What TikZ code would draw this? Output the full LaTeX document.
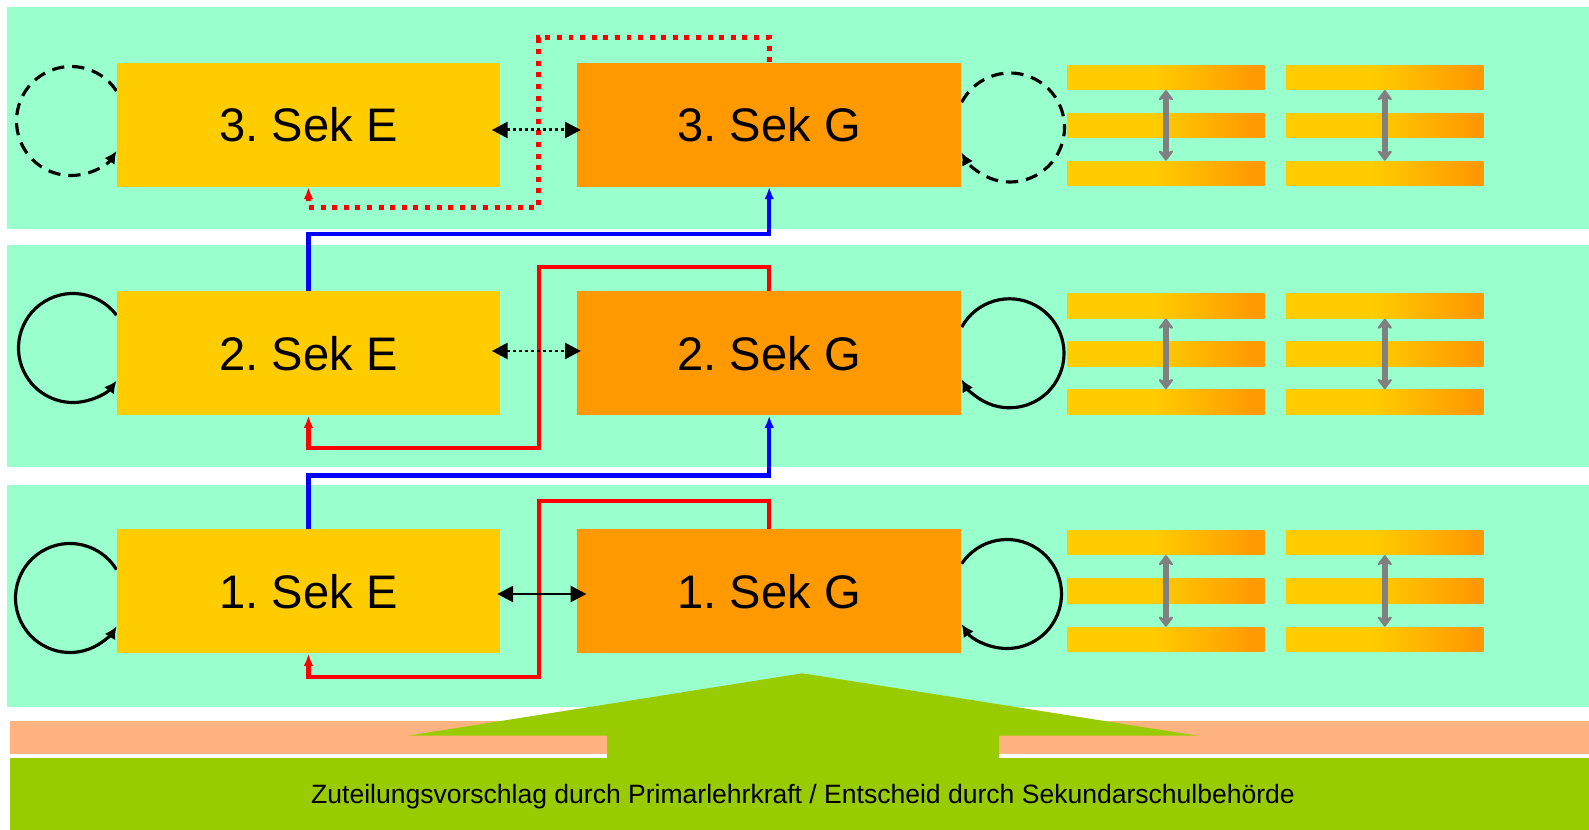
\documentclass[tikz,border=0pt]{standalone}
\usepackage{fontspec}
\setmainfont{Liberation Sans}
\frenchspacing
\usetikzlibrary{arrows.meta}
\definecolor{bandc}{HTML}{99FFCC}
\definecolor{sekE}{HTML}{FFCC00}
\definecolor{sekG}{HTML}{FF9900}
\definecolor{salmon}{HTML}{FFB380}
\definecolor{grn}{HTML}{99CC00}
\definecolor{gry}{HTML}{808080}
\definecolor{myred}{HTML}{FF0000}
\definecolor{myblue}{HTML}{0000FF}
\pgfdeclarehorizontalshading{stripeshade}{100bp}{color(0bp)=(sekE); color(25bp)=(sekE); color(47bp)=(sekE); color(73bp)=(sekG); color(100bp)=(sekG)}
\tikzset{
  band/.style={fill=bandc},
  ebox/.style={fill=sekE, minimum width=7.68cm, minimum height=2.48cm, inner sep=0pt, font=\fontsize{26.8}{30}\selectfont},
  gbox/.style={ebox, fill=sekG},
  stripebox/.style={shading=stripeshade, minimum width=3.954cm, minimum height=0.494cm, inner sep=0pt},
  loopline/.style={line width=1.8pt, -{Latex[length=7pt,width=7pt]}},
  dashloop/.style={loopline, dash pattern=on 7pt off 4.5pt},
  dbl/.style={line width=1.7pt, {Triangle[length=9pt,width=9pt]}-{Triangle[length=9pt,width=9pt]}},
  dotdbl/.style={dbl, dash pattern=on 1.7pt off 1.7pt},
  blueline/.style={myblue, line width=2.3pt, -{Latex[length=7pt,width=5.5pt]}},
  redline/.style={myred, line width=2.3pt, -{Latex[length=7pt,width=5.5pt]}},
  reddot/.style={redline, line width=2.8pt, dash pattern=on 2.8pt off 3.8pt},
  grayarr/.style={gry, line width=3.6pt, {Stealth[round,length=7pt,width=10.5pt,inset=2.5pt]}-{Stealth[round,length=7pt,width=10.5pt,inset=2.5pt]}}
}
\begin{document}
\begin{tikzpicture}[x=0.02cm,y=0.02cm]
\useasboundingbox (0,0) rectangle (1589,-830);
\fill[white] (0,0) rectangle (1589,-830);
% bands
\fill[band] (7,-7) rectangle (1589,-229);
\fill[band] (7,-245) rectangle (1589,-467.5);
\fill[band] (7,-485) rectangle (1589,-707.5);
\fill[salmon] (10,-721.5) rectangle (1589,-754);
\fill[grn] (10,-757.7) rectangle (1589,-830);
\fill[grn] (607,-760) -- (607,-735.7) -- (408,-735.7) -- (802.4,-673.3) -- (1197.6,-735.7) -- (999,-735.7) -- (999,-760) -- cycle;
\node[font=\fontsize{15.1}{18}\selectfont] (txt) at (803,-797) {Zuteilungsvorschlag durch Primarlehrkraft / Entscheid durch Sekundarschulbehörde};
% loops
\draw[dashloop] (71,-121) ++(33.4:54.5) arc[start angle=33.4, end angle=326.6, radius=54.5];
\draw[loopline] (73,-348) ++(37:54.5) arc[start angle=37, end angle=323, radius=54.5];
\draw[loopline] (70,-598) ++(31.4:54.5) arc[start angle=31.4, end angle=328.6, radius=54.5];
\draw[dashloop] (1010,-127.5) ++(152.4:54.5) arc[start angle=152.4, end angle=-152.4, radius=54.5];
\draw[loopline] (1009.5,-353.3) ++(151.3:54.5) arc[start angle=151.3, end angle=-151.3, radius=54.5];
\draw[loopline] (1007,-594) ++(146.2:54.5) arc[start angle=146.2, end angle=-146.2, radius=54.5];
% boxes
\node[ebox] (e3) at (308.5,-124.6) {3. Sek E};
\node[gbox] (g3) at (769.2,-124.6) {3. Sek G};
\node[ebox] (e2) at (308.5,-353.3) {2. Sek E};
\node[gbox] (g2) at (769.2,-353.3) {2. Sek G};
\node[ebox] (e1) at (308.5,-591.3) {1. Sek E};
\node[gbox] (g1) at (769.2,-591.3) {1. Sek G};
% stripes
\foreach \r/\ya/\yb/\yc in {3/77.4/125.4/173.4, 2/305.9/353.9/401.9, 1/542.4/590.9/639.4}{
  \node[stripebox] (s\r a1) at (1165.9,-\ya) {};
  \node[stripebox] (s\r a2) at (1165.9,-\yb) {};
  \node[stripebox] (s\r a3) at (1165.9,-\yc) {};
  \node[stripebox] (s\r b1) at (1384.8,-\ya) {};
  \node[stripebox] (s\r b2) at (1384.8,-\yb) {};
  \node[stripebox] (s\r b3) at (1384.8,-\yc) {};
  \draw[grayarr] (s\r a1.south) -- (s\r a3.north);
  \draw[grayarr] (s\r b1.south) -- (s\r b3.north);
}
% connectors
\coordinate (b3) at (769.2,-234.3);
\coordinate (b2) at (769.2,-475.5);
\draw[blueline] (e2.north) |- (b3) -- (g3.south);
\draw[blueline] (e1.north) |- (b2) -- (g2.south);
\coordinate (r3a) at (538.6,-37.7);
\coordinate (r3b) at (308.5,-207.3);
\coordinate (r2a) at (538.6,-266.7);
\coordinate (r2b) at (308.5,-447.7);
\coordinate (r1a) at (538.6,-501);
\coordinate (r1b) at (308.5,-676.7);
\draw[reddot] (g3.north) |- (r3a) |- (r3b) -- (e3.south);
\draw[redline] (g2.north) |- (r2a) |- (r2b) -- (e2.south);
\draw[redline] (g1.north) |- (r1a) |- (r1b) -- (e1.south);
% double arrows
\draw[dotdbl, shorten <=-0.18cm, shorten >=-0.08cm] ([yshift=-0.108cm]e3.east) -- ([yshift=-0.108cm]g3.west);
\draw[dotdbl, shorten <=-0.18cm, shorten >=-0.08cm] ([yshift=0.046cm]e2.east) -- ([yshift=0.046cm]g2.west);
\draw[dbl, shorten <=-0.07cm, shorten >=-0.19cm] ([yshift=-0.054cm]e1.east) -- ([yshift=-0.054cm]g1.west);
\end{tikzpicture}
\end{document}
